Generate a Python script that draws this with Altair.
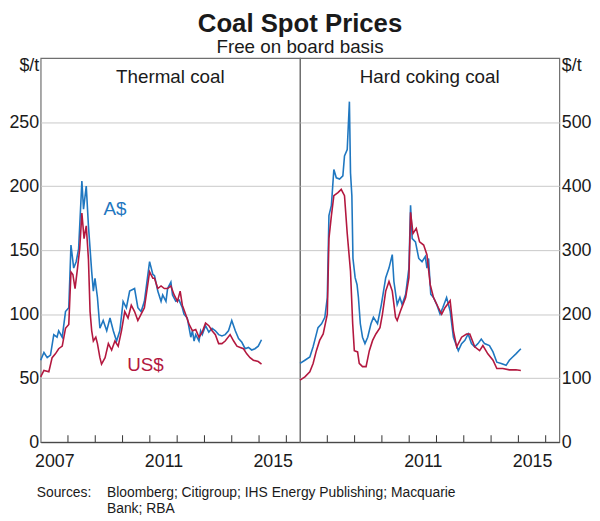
import altair as alt
import pandas as pd

# ---------------- data (decimal years, US$/A$ per tonne) ----------------
thermal_aud_years = [2007.00, 2007.12, 2007.24, 2007.36, 2007.48, 2007.60, 2007.66, 2007.79, 2007.91, 2008.03,
                     2008.11, 2008.21, 2008.30, 2008.39, 2008.51, 2008.57, 2008.67, 2008.75, 2008.81, 2008.87,
                     2008.93, 2008.99, 2009.08, 2009.17, 2009.29, 2009.42, 2009.54, 2009.66, 2009.78, 2009.90,
                     2010.02, 2010.14, 2010.26, 2010.44, 2010.56, 2010.68, 2010.80, 2010.99, 2011.11, 2011.17,
                     2011.29, 2011.41, 2011.47, 2011.59, 2011.65, 2011.77, 2011.83, 2011.95, 2012.07, 2012.19,
                     2012.25, 2012.37, 2012.44, 2012.50, 2012.56, 2012.62, 2012.68, 2012.80, 2012.86, 2012.92,
                     2013.04, 2013.16, 2013.28, 2013.40, 2013.52, 2013.64, 2013.76, 2013.88, 2014.00, 2014.13,
                     2014.25, 2014.37, 2014.49, 2014.61, 2014.73, 2014.85, 2014.97, 2015.09]
thermal_aud = [64, 70, 66, 68, 84, 82, 87, 82, 102, 105,
               154, 136, 141, 151, 204, 182, 200, 169, 151, 133,
               118, 128, 113, 89, 95, 87, 97, 87, 79, 87,
               110, 105, 118, 120, 105, 102, 110, 141, 131, 130,
               118, 110, 115, 110, 120, 125, 115, 110, 111, 105,
               100, 97, 89, 82, 87, 79, 84, 79, 87, 84,
               91, 86, 89, 87, 84, 83, 84, 87, 95, 87,
               81, 78, 73, 74, 72, 73, 75, 80]

thermal_usd_years = [2007.00, 2007.12, 2007.30, 2007.42, 2007.54, 2007.66, 2007.79, 2007.91, 2008.03, 2008.11,
                     2008.18, 2008.26, 2008.35, 2008.43, 2008.51, 2008.59, 2008.67, 2008.75, 2008.81, 2008.87,
                     2008.93, 2009.02, 2009.08, 2009.17, 2009.23, 2009.36, 2009.48, 2009.60, 2009.72, 2009.84,
                     2009.96, 2010.08, 2010.20, 2010.32, 2010.44, 2010.56, 2010.68, 2010.80, 2010.99, 2011.11,
                     2011.17, 2011.29, 2011.41, 2011.53, 2011.65, 2011.77, 2011.89, 2012.01, 2012.11, 2012.19,
                     2012.31, 2012.44, 2012.56, 2012.68, 2012.80, 2012.92, 2013.04, 2013.16, 2013.28, 2013.40,
                     2013.52, 2013.64, 2013.76, 2013.94, 2014.07, 2014.19, 2014.31, 2014.43, 2014.55, 2014.67,
                     2014.79, 2014.97, 2015.09]
thermal_usd = [51, 56, 55, 66, 69, 73, 75, 89, 92, 133,
               131, 120, 136, 151, 179, 159, 169, 143, 102, 87,
               79, 82, 77, 66, 61, 66, 77, 72, 79, 75,
               87, 102, 97, 107, 102, 95, 100, 105, 133, 128,
               128, 120, 122, 120, 120, 122, 115, 110, 118, 107,
               100, 92, 87, 88, 82, 86, 93, 91, 87, 84,
               77, 77, 79, 84, 79, 75, 74, 73, 69, 66,
               64, 63, 61]

coking_aud_years = [2007.00, 2007.18, 2007.36, 2007.48, 2007.54, 2007.66, 2007.79, 2007.91, 2008.00, 2008.06,
                    2008.15, 2008.24, 2008.33, 2008.45, 2008.57, 2008.63, 2008.73, 2008.81, 2008.85, 2008.90,
                    2008.94, 2009.02, 2009.09, 2009.14, 2009.21, 2009.29, 2009.38, 2009.48, 2009.60, 2009.69,
                    2009.84, 2009.98, 2010.14, 2010.26, 2010.38, 2010.44, 2010.56, 2010.66, 2010.74, 2010.87,
                    2010.99, 2011.05, 2011.11, 2011.23, 2011.35, 2011.47, 2011.59, 2011.65, 2011.71, 2011.79,
                    2011.89, 2012.01, 2012.13, 2012.23, 2012.37, 2012.50, 2012.62, 2012.80, 2012.92, 2013.04,
                    2013.16, 2013.28, 2013.40, 2013.52, 2013.64, 2013.76, 2013.94, 2014.07, 2014.21, 2014.37,
                    2014.55, 2014.67, 2014.79, 2014.91, 2015.09]
coking_aud = [123, 128, 133, 149, 159, 179, 185, 195, 226, 354,
              370, 426, 413, 411, 416, 447, 457, 532, 421, 385,
              287, 257, 246, 226, 185, 164, 154, 164, 185, 195,
              185, 215, 257, 272, 293, 251, 215, 226, 215, 231,
              272, 370, 318, 313, 287, 282, 290, 272, 287, 231,
              226, 215, 200, 210, 226, 205, 164, 143, 154, 159,
              169, 154, 149, 154, 161, 154, 151, 141, 125, 123,
              120, 128, 133, 138, 146]

coking_usd_years = [2007.00, 2007.18, 2007.36, 2007.48, 2007.60, 2007.72, 2007.85, 2008.00, 2008.06, 2008.15,
                    2008.24, 2008.39, 2008.51, 2008.63, 2008.73, 2008.85, 2008.93, 2008.99, 2009.11, 2009.17,
                    2009.29, 2009.42, 2009.54, 2009.66, 2009.78, 2009.93, 2010.02, 2010.14, 2010.26, 2010.38,
                    2010.50, 2010.56, 2010.68, 2010.87, 2010.99, 2011.05, 2011.14, 2011.26, 2011.38, 2011.53,
                    2011.65, 2011.77, 2011.89, 2012.07, 2012.19, 2012.31, 2012.50, 2012.62, 2012.74, 2012.92,
                    2013.10, 2013.22, 2013.40, 2013.58, 2013.70, 2013.88, 2014.07, 2014.21, 2014.43, 2014.67,
                    2014.91, 2015.09]
coking_usd = [97, 102, 110, 123, 143, 159, 169, 200, 318, 354,
              385, 390, 395, 385, 326, 267, 185, 143, 141, 123,
              118, 118, 143, 159, 169, 179, 200, 236, 251, 236,
              195, 190, 205, 226, 257, 359, 326, 334, 313, 308,
              293, 246, 226, 210, 200, 210, 221, 174, 149, 164,
              169, 169, 149, 143, 151, 138, 128, 115, 115, 113,
              113, 112]

series_names = ["A$", "US$"]
thermal_label_years = [2009.72, 2010.84]
thermal_label_prices = [182, 60]

x_label_left = [2007.5, 2011.5, 2015.5]
x_label_right = [2011.5, 2015.5]
x_tick_years = [2008, 2009, 2010, 2011, 2012, 2013, 2014, 2015, 2016]
thermal_y_ticks = [0, 50, 100, 150, 200, 250]
coking_y_ticks = [0, 100, 200, 300, 400, 500]

# ---------------- styling ----------------
FONT = "Liberation Sans"
TXT = "#1a1a1a"
BLUE = "#1f77c0"
RED = "#b3183f"
W, H = 262, 388


def frame(years, values, name):
    return pd.DataFrame({"year": years, "price": values, "series": name})


thermal_df = pd.concat([frame(thermal_aud_years, thermal_aud, "A$"),
                        frame(thermal_usd_years, thermal_usd, "US$")], ignore_index=True)
coking_df = pd.concat([frame(coking_aud_years, coking_aud, "A$"),
                       frame(coking_usd_years, coking_usd, "US$")], ignore_index=True)
ticks_df = pd.DataFrame({"year": x_tick_years})
labels_df = pd.DataFrame({"year": thermal_label_years, "price": thermal_label_prices,
                          "series": series_names, "label": series_names})

color_scale = alt.Scale(domain=series_names, range=[BLUE, RED])


def panel(df, ymax, yticks, orient, title, xlabels, with_labels=False, with_sources=False):
    xs = alt.Scale(domain=[2007, 2016.5], nice=False, zero=False)
    ys = alt.Scale(domain=[0, ymax], nice=False)
    x_axis = alt.Axis(values=xlabels, labelExpr="floor(datum.value)", ticks=False, grid=False,
                      domainColor="#333333", domainWidth=1, labelFontSize=18, labelPadding=11,
                      title=None, labelFlush=False, labelOverlap=False)
    if orient == "left":
        y_axis = alt.Axis(orient="left", values=yticks, grid=True, ticks=False, domain=False,
                          labelPadding=2, labelFontSize=18, format="d",
                          title="$/t", titleAngle=0, titleAlign="right", titleBaseline="top",
                          titleX=-2, titleY=-1, titleFontSize=18, titleFontWeight="normal")
    else:
        y_axis = alt.Axis(orient="right", values=yticks, grid=True, ticks=False, domain=False,
                          labelPadding=2, labelFontSize=18, format="d",
                          title="$/t", titleAngle=0, titleAlign="left", titleBaseline="top",
                          titleX=2, titleY=-1, titleFontSize=18, titleFontWeight="normal")
    X = alt.X("year:Q", scale=xs, axis=x_axis)
    Y = alt.Y("price:Q", scale=ys, axis=y_axis)
    C = alt.Color("series:N", scale=color_scale, legend=None)

    lines = alt.Chart(df).mark_line(strokeWidth=1.6).encode(x=X, y=Y, color=C, detail="series:N")
    ticks = alt.Chart(ticks_df).mark_rule(color="#333333", strokeWidth=1).encode(
        x=X, y=alt.value(H), y2=alt.value(H - 7))
    ttl = alt.Chart(pd.DataFrame({"t": [title]})).mark_text(
        fontSize=19, align="center", baseline="alphabetic", color=TXT).encode(
        x=alt.value(W / 2), y=alt.value(25), text="t:N")
    layers = [lines, ticks, ttl]
    if with_labels:
        layers.append(alt.Chart(labels_df).mark_text(fontSize=19, align="center", baseline="middle").encode(
            x=X, y=Y, color=C, text="label:N"))
    if with_sources:
        layers.append(alt.Chart(pd.DataFrame({"t": ["Sources:"]})).mark_text(
            fontSize=14, align="left", baseline="alphabetic", color=TXT).encode(
            x=alt.value(-4), y=alt.value(H + 55), text="t:N"))
        layers.append(alt.Chart(pd.DataFrame({"t": ["Bloomberg; Citigroup; IHS Energy Publishing; Macquarie"]})).mark_text(
            fontSize=14, align="left", baseline="alphabetic", color=TXT).encode(
            x=alt.value(67), y=alt.value(H + 55), text="t:N"))
        layers.append(alt.Chart(pd.DataFrame({"t": ["Bank; RBA"]})).mark_text(
            fontSize=14, align="left", baseline="alphabetic", color=TXT).encode(
            x=alt.value(67), y=alt.value(H + 72), text="t:N"))
    return alt.layer(*layers).properties(width=W, height=H)


left = panel(thermal_df, 300, thermal_y_ticks, "left", "Thermal coal", x_label_left,
             with_labels=True, with_sources=True)
right = panel(coking_df, 600, coking_y_ticks, "right", "Hard coking coal", x_label_right)

chart = alt.hconcat(left, right, spacing=0).properties(
    title=alt.TitleParams(text="Coal Spot Prices", subtitle="Free on board basis",
                          fontSize=26, fontWeight="bold", subtitleFontSize=19,
                          subtitlePadding=1, offset=0, anchor="middle",
                          color=TXT, subtitleColor=TXT, font=FONT, subtitleFont=FONT),
    bounds="flush",
    padding={"left": 0, "right": 0, "top": 0, "bottom": 0},
).configure_view(
    stroke="#6f6f6f", strokeWidth=1.2
).configure_axis(
    labelFont=FONT, titleFont=FONT, labelColor=TXT, titleColor=TXT,
    gridColor="#c8c8c8", gridWidth=1
).configure_text(font=FONT)

chart.save("out.html", embed_options={"renderer": "svg", "actions": False})
